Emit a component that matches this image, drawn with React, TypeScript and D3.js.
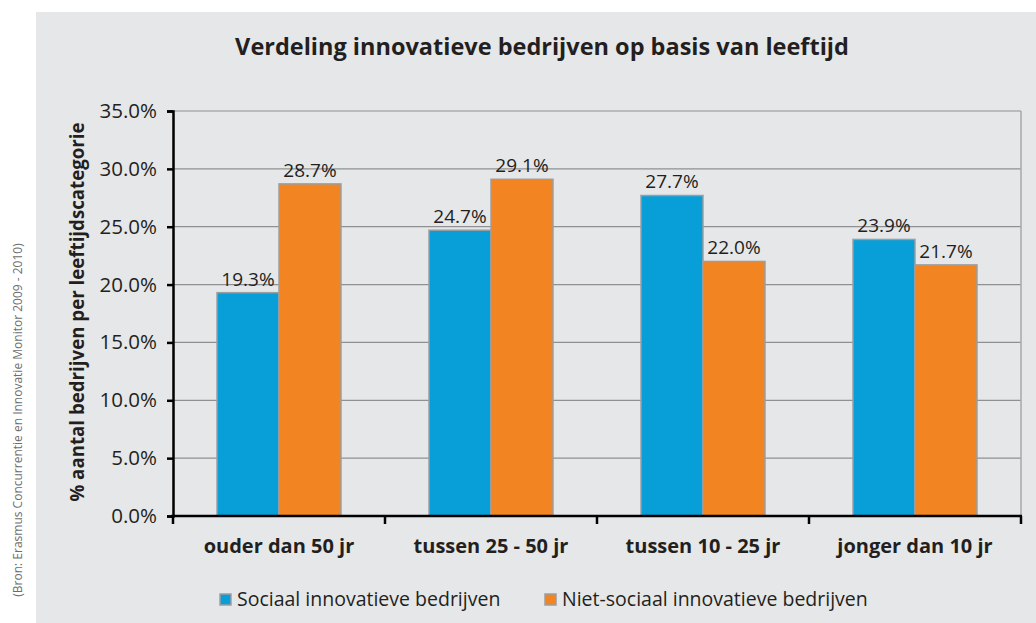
import React, { useRef, useEffect } from 'react';
import * as d3 from 'd3';

const categories = ['ouder dan 50 jr', 'tussen 25 - 50 jr', 'tussen 10 - 25 jr', 'jonger dan 10 jr'];
const seriesNames = ['Sociaal innovatieve bedrijven', 'Niet-sociaal innovatieve bedrijven'];
const sociaal = [19.3, 24.7, 27.7, 23.9];
const nietSociaal = [28.7, 29.1, 22.0, 21.7];
const yTicks = [0, 5, 10, 15, 20, 25, 30, 35];
const colors = ['#089fd9', '#f28422'];

const W = 1036;
const H = 623;
const FONT = '"Open Sans", "DejaVu Sans", sans-serif';

const App = () => {
  const svgRef = useRef<SVGSVGElement>(null);

  useEffect(() => {
    const left = 173, right = 1021, top = 111, bottom = 516;

    const svg = d3.select(svgRef.current)
      .attr('width', W)
      .attr('height', H)
      .style('position', 'absolute')
      .style('left', '0px')
      .style('top', '0px')
      .html('');

    // panel
    svg.append('rect').attr('width', W).attr('height', H).attr('fill', '#fff');
    svg.append('rect')
      .attr('x', 36).attr('y', 12)
      .attr('width', W - 36).attr('height', H - 12)
      .attr('fill', '#e6e7e9');

    // source note
    svg.append('text')
      .attr('transform', 'translate(22,420) rotate(-90)')
      .attr('text-anchor', 'middle')
      .attr('font-family', FONT)
      .attr('font-size', 12)
      .attr('fill', '#6d6e70')
      .text('(Bron: Erasmus Concurrentie en Innovatie Monitor 2009 - 2010)');

    // title
    svg.append('text')
      .attr('x', 542).attr('y', 55)
      .attr('text-anchor', 'middle')
      .attr('font-family', FONT)
      .attr('font-weight', 'bold')
      .attr('font-size', 23.5)
      .attr('fill', '#231f20')
      .text('Verdeling innovatieve bedrijven op basis van leeftijd');

    // Scales
    const x0 = d3.scaleBand().domain(categories).range([left, right]).padding(0);
    const x1 = d3.scaleBand().domain(seriesNames)
      .range([0, x0.bandwidth()])
      .paddingInner(0)
      .paddingOuter(0.71);
    const y = d3.scaleLinear().domain([0, 35]).range([bottom, top]);

    // gridlines
    svg.append('g')
      .selectAll('line')
      .data(yTicks.filter(t => t > 0))
      .enter()
      .append('line')
        .attr('x1', left).attr('x2', right)
        .attr('y1', d => y(d)).attr('y2', d => y(d))
        .attr('stroke', '#8f9092')
        .attr('stroke-width', 1.2);
    svg.append('line')
      .attr('x1', right).attr('x2', right)
      .attr('y1', top).attr('y2', bottom)
      .attr('stroke', '#a7a9ac')
      .attr('stroke-width', 1.5);

    // Bars
    const rows = categories.map((c, i) => ({ c, vals: [sociaal[i], nietSociaal[i]] }));
    const groups = svg.selectAll('.grp')
      .data(rows)
      .enter()
      .append('g')
        .attr('transform', d => `translate(${x0(d.c)},0)`);

    groups.selectAll('rect')
      .data(d => d.vals.map((v, k) => ({ name: seriesNames[k], v, k })))
      .enter()
      .append('rect')
        .attr('x', d => x1(d.name)!)
        .attr('y', d => y(d.v))
        .attr('width', x1.bandwidth())
        .attr('height', d => bottom - y(d.v))
        .attr('fill', d => colors[d.k])
        .attr('stroke', '#9c9ea1')
        .attr('stroke-width', 1.5);

    // Labels
    groups.selectAll('.label')
      .data(d => d.vals.map((v, k) => ({ name: seriesNames[k], v, k })))
      .enter()
      .append('text')
        .attr('x', d => x1(d.name)! + x1.bandwidth() / 2)
        .attr('y', d => y(d.v) - 7)
        .attr('text-anchor', 'middle')
        .attr('font-family', FONT)
        .attr('font-size', 19)
        .attr('fill', '#231f20')
        .text(d => d.v.toFixed(1) + '%');

    // Axes
    const yAxis = svg.append('g')
      .attr('transform', `translate(${left},0)`)
      .call(d3.axisLeft(y).tickValues(yTicks).tickSize(6).tickPadding(10)
        .tickFormat(d => (d as number).toFixed(1) + '%'));
    yAxis.select('.domain').attr('stroke', '#000').attr('stroke-width', 2.5);
    yAxis.selectAll('.tick line').attr('stroke', '#000').attr('stroke-width', 2.5);
    yAxis.selectAll('text')
      .attr('font-family', FONT)
      .attr('font-size', 20.5)
      .attr('fill', '#231f20');

    const xAxis = svg.append('g')
      .attr('transform', `translate(0,${bottom})`);
    xAxis.append('line')
      .attr('x1', left - 2).attr('x2', right + 1)
      .attr('stroke', '#000').attr('stroke-width', 2.5);
    xAxis.selectAll('.tk')
      .data([...categories.map(c => x0(c)!), right])
      .enter()
      .append('line')
        .attr('x1', d => d).attr('x2', d => d)
        .attr('y1', 0).attr('y2', 8)
        .attr('stroke', '#000').attr('stroke-width', 2.5);
    xAxis.selectAll('.cat')
      .data(categories)
      .enter()
      .append('text')
        .attr('x', d => x0(d)! + x0.bandwidth() / 2)
        .attr('y', 37)
        .attr('text-anchor', 'middle')
        .attr('font-family', FONT)
        .attr('font-weight', 'bold')
        .attr('font-size', 20)
        .attr('fill', '#231f20')
        .text(d => d);

    // y title
    svg.append('text')
      .attr('transform', 'translate(84,312) rotate(-90)')
      .attr('text-anchor', 'middle')
      .attr('font-family', FONT)
      .attr('font-weight', 'bold')
      .attr('font-size', 18.7)
      .attr('fill', '#231f20')
      .text('% aantal bedrijven per leeftijdscategorie');

    // Legend
    const legendX = [220, 545];
    const leg = svg.selectAll('.leg')
      .data(seriesNames)
      .enter()
      .append('g')
        .attr('transform', (d, i) => `translate(${legendX[i]},594)`);
    leg.append('rect')
      .attr('width', 11).attr('height', 11)
      .attr('fill', (d, i) => colors[i])
      .attr('stroke', '#9c9ea1')
      .attr('stroke-width', 1.5);
    leg.append('text')
      .attr('x', 17).attr('y', 12)
      .attr('font-family', FONT)
      .attr('font-size', 19.5)
      .attr('fill', '#231f20')
      .text(d => d);
  }, []);

  return <svg ref={svgRef} />;
};

export default App;
